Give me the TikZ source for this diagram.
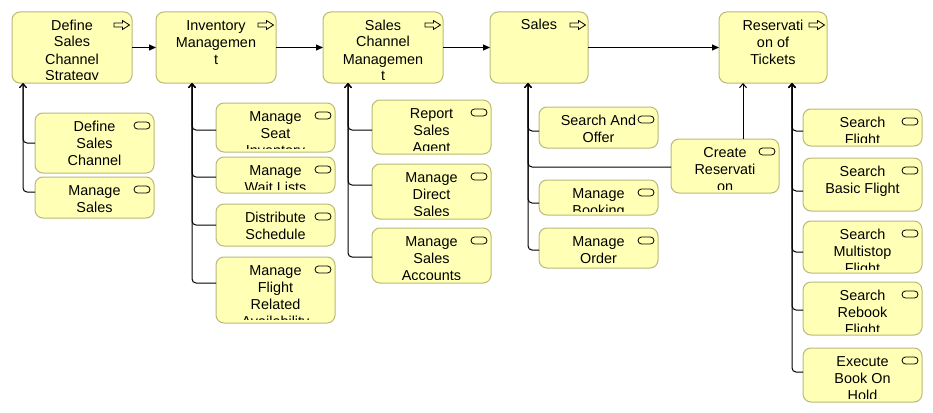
\documentclass[tikz,border=0pt]{standalone}
\usepackage{fontspec}
\setmainfont{Liberation Sans}
\usetikzlibrary{arrows.meta}
\definecolor{elfill}{RGB}{255,255,181}
\definecolor{eldraw}{RGB}{185,185,125}
\tikzset{
  box/.style={draw=eldraw, fill=elfill, line width=1pt, rounded corners=8pt, inner sep=0pt, outer sep=0pt},
  txt/.style={inner sep=0pt, outer sep=0pt, align=center, font=\fontsize{14.4}{17}\selectfont},
  icon/.style={draw=black, line width=0.8pt},
  flow/.style={line width=1pt, -{Triangle[length=7pt,width=6pt]}},
  sub/.style={line width=1pt, rounded corners=4pt, -{Straight Barb[length=4pt,width=7pt]}}
}
\newcommand\aicon[2]{\draw[icon, shift={(#1-10,#2+13)}] (-8,-2) -- (0.5,-2) -- (0.5,-4.5) -- (7.5,0) -- (0.5,4.5) -- (0.5,2) -- (-8,2) -- cycle;}
\newcommand\ricon[2]{\draw[icon, rounded corners=3.5pt, shift={(#1-12,#2+12.5)}] (-8,-3.5) rectangle (8,3.5);}
\newcommand\elem[7]{%
  \node[box, minimum width={#4-#2}, minimum height={#5-#3}, anchor=north west] (#1) at (#2,#3) {};
  \begin{scope}
    \clip (#2+1,#3+1) rectangle (#4-1,#5-4);
    \node[txt, anchor=north] (#1-t) at ({(#2+#4)/2},#3+6) {\rule{0pt}{12pt}#6};
  \end{scope}
  #7{#4}{#3}%
}
\begin{document}
\begin{tikzpicture}[x=1pt,y=-1pt]
\fill[white] (0,0) rectangle (933,412);
\useasboundingbox (0,0) rectangle (933,412);
% top-level
\elem{dscs}{12}{12}{132}{83}{Define\\Sales\\Channel\\Strategy}{\aicon}
\elem{inv}{156}{12}{276}{83}{Inventory\\Managemen\\t}{\aicon}
\elem{scm}{323}{12}{443}{83}{Sales\\Channel\\Managemen\\t}{\aicon}
\elem{sales}{490}{12}{588}{83}{Sales}{\aicon}
\elem{rot}{719}{12}{827}{83}{Reservati\\on of\\Tickets}{\aicon}
% children of dscs
\elem{dsc}{35}{113}{154}{173}{Define\\Sales\\Channel}{\ricon}
\elem{ms}{35}{177}{154}{218}{Manage\\Sales}{\ricon}
% children of inv
\elem{msi}{216}{103}{335}{152}{Manage\\Seat\\Inventory}{\ricon}
\elem{mwl}{216}{157}{335}{193}{Manage\\Wait Lists}{\ricon}
\elem{ds}{216}{204}{335}{246}{Distribute\\Schedule}{\ricon}
\elem{mfra}{216}{257}{335}{323}{Manage\\Flight\\Related\\Availability}{\ricon}
% children of scm
\elem{rsa}{372}{100}{491}{154}{Report\\Sales\\Agent}{\ricon}
\elem{mds}{372}{164}{491}{219}{Manage\\Direct\\Sales}{\ricon}
\elem{msa}{372}{228}{491}{283}{Manage\\Sales\\Accounts}{\ricon}
% children of sales
\elem{sao}{539}{107}{658}{148}{Search And\\Offer}{\ricon}
\elem{mb}{539}{180}{658}{215}{Manage\\Booking}{\ricon}
\elem{mo}{539}{228}{658}{268}{Manage\\Order}{\ricon}
\elem{cr}{671}{139}{779}{193}{Create\\Reservati\\on}{\ricon}
% children of rot
\elem{sf}{803}{109}{922}{146}{Search\\Flight}{\ricon}
\elem{sbf}{803}{158}{922}{211}{Search\\Basic Flight}{\ricon}
\elem{smf}{803}{221}{922}{273}{Search\\Multistop\\Flight}{\ricon}
\elem{srf}{803}{282}{922}{335}{Search\\Rebook\\Flight}{\ricon}
\elem{ebh}{803}{348}{922}{402}{Execute\\Book On\\Hold}{\ricon}
% flow arrows
\draw[flow] (dscs.east) -- (inv.west);
\draw[flow] (inv.east) -- (scm.west);
\draw[flow] (scm.east) -- (sales.west);
\draw[flow] (sales.east) -- (rot.west);
% composition-like connectors
\draw[sub] ([yshift=-30pt]dsc.north west) -| ([xshift=11pt]dscs.south west);
\draw[sub] ([yshift=-15pt]ms.north west) -| ([xshift=11pt]dscs.south west);
\draw[sub] ([yshift=-27pt]msi.north west) -| ([xshift=36pt]inv.south west);
\draw[sub] ([yshift=-20pt]mwl.north west) -| ([xshift=36pt]inv.south west);
\draw[sub] ([yshift=-21pt]ds.north west) -| ([xshift=36pt]inv.south west);
\draw[sub] ([yshift=-26pt]mfra.north west) -| ([xshift=36pt]inv.south west);
\draw[sub] ([yshift=-30pt]rsa.north west) -| ([xshift=25pt]scm.south west);
\draw[sub] ([yshift=-21pt]mds.north west) -| ([xshift=25pt]scm.south west);
\draw[sub] ([yshift=-29pt]msa.north west) -| ([xshift=25pt]scm.south west);
\draw[sub] ([yshift=-24pt]sao.north west) -| ([xshift=38pt]sales.south west);
\draw[sub] ([yshift=-28pt]cr.north west) -| ([xshift=38pt]sales.south west);
\draw[sub] ([yshift=-23pt]mb.north west) -| ([xshift=38pt]sales.south west);
\draw[sub] ([yshift=-22pt]mo.north west) -| ([xshift=38pt]sales.south west);
\draw[sub] ([xshift=72pt]cr.north west) -- ([xshift=24pt]rot.south west);
\draw[sub] ([yshift=-22pt]sf.north west) -| ([xshift=73pt]rot.south west);
\draw[sub] ([yshift=-33pt]sbf.north west) -| ([xshift=73pt]rot.south west);
\draw[sub] ([yshift=-31pt]smf.north west) -| ([xshift=73pt]rot.south west);
\draw[sub] ([yshift=-28pt]srf.north west) -| ([xshift=73pt]rot.south west);
\draw[sub] ([yshift=-24pt]ebh.north west) -| ([xshift=73pt]rot.south west);
\end{tikzpicture}
\end{document}
